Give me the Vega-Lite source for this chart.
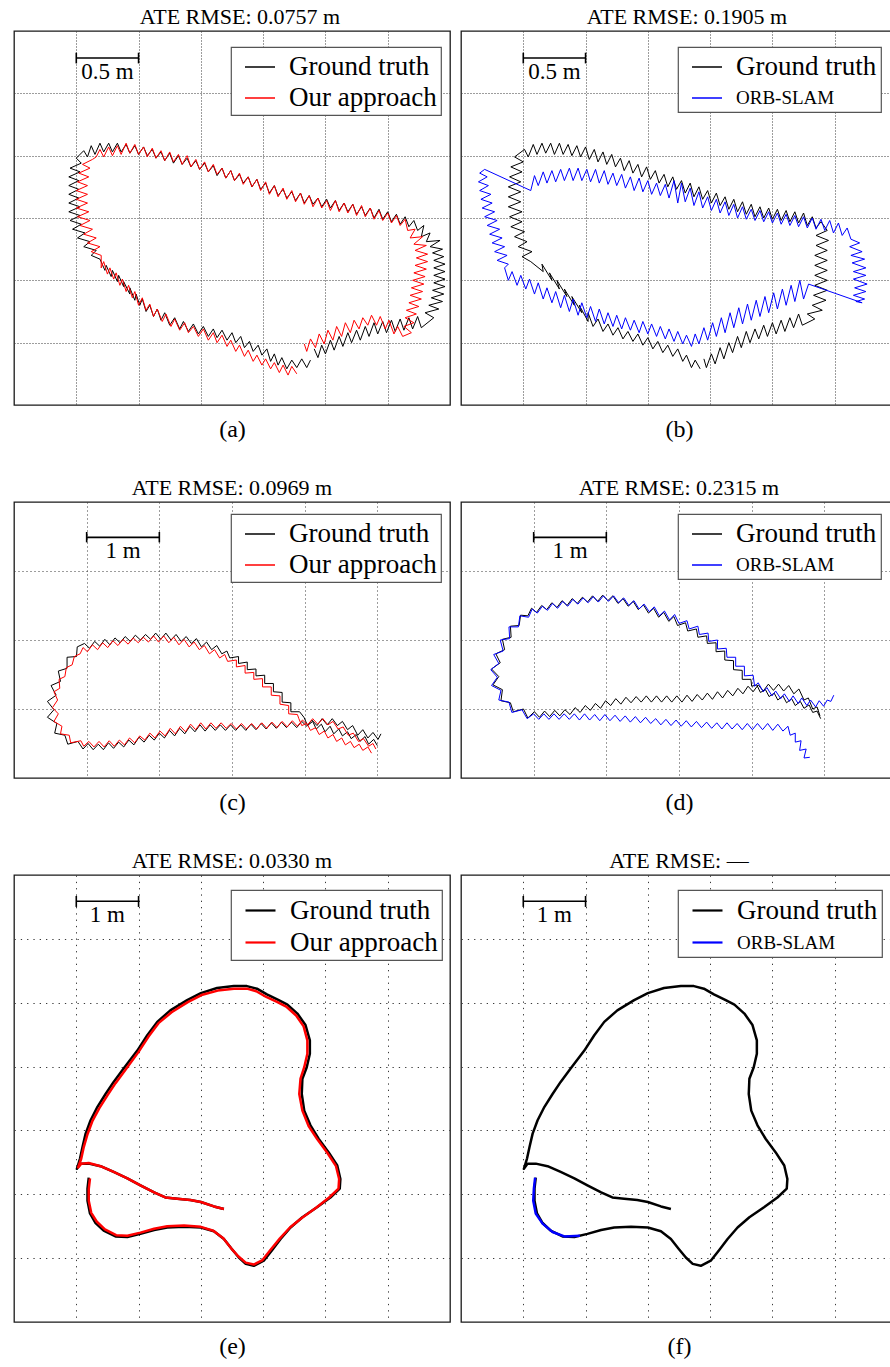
{
"$schema":"https://vega.github.io/schema/vega-lite/v6.json",
"background":"white",
"padding":{"left":13,"top":5,"right":0,"bottom":0},
"config":{
 "font":"Liberation Serif",
 "view":{"stroke":"#1a1a1a","strokeWidth":1.3},
 "axis":{"labels":false,"ticks":false,"domain":false,"grid":true,"gridColor":"#3a3a3a","gridWidth":1,"gridDash":[1,2],"titleFont":"Liberation Serif","titleFontSize":24,"titleFontWeight":"normal","titleColor":"#000","titlePadding":12},
 "title":{"font":"Liberation Serif","fontSize":22,"fontWeight":"normal","color":"#000","offset":2},
 "legend":{"fillColor":"white","strokeColor":"#555","strokeWidth":1.2,"padding":4,"symbolType":"stroke","symbolSize":900,"symbolStrokeWidth":1.5,"symbolOffset":9,"labelOffset":13,"rowPadding":2,"labelFont":"Liberation Serif","labelFontSize":27,"labelColor":"#000","labelLimit":0}
},
"datasets":{
"a_gt":[{"x":2.38,"y":0.36},{"x":2.35,"y":0.30},{"x":2.31,"y":0.37},{"x":2.27,"y":0.30},{"x":2.23,"y":0.36},{"x":2.19,"y":0.29},{"x":2.15,"y":0.38},{"x":2.12,"y":0.32},{"x":2.09,"y":0.41},{"x":2.06,"y":0.35},{"x":2.03,"y":0.45},{"x":1.99,"y":0.40},{"x":1.96,"y":0.48},{"x":1.92,"y":0.43},{"x":1.89,"y":0.51},{"x":1.85,"y":0.46},{"x":1.82,"y":0.55},{"x":1.78,"y":0.50},{"x":1.75,"y":0.58},{"x":1.71,"y":0.52},{"x":1.67,"y":0.60},{"x":1.63,"y":0.54},{"x":1.60,"y":0.61},{"x":1.56,"y":0.55},{"x":1.52,"y":0.63},{"x":1.48,"y":0.57},{"x":1.44,"y":0.65},{"x":1.40,"y":0.59},{"x":1.36,"y":0.67},{"x":1.33,"y":0.61},{"x":1.29,"y":0.70},{"x":1.25,"y":0.64},{"x":1.21,"y":0.74},{"x":1.18,"y":0.68},{"x":1.15,"y":0.77},{"x":1.12,"y":0.71},{"x":1.09,"y":0.80},{"x":1.06,"y":0.75},{"x":1.03,"y":0.85},{"x":1.01,"y":0.80},{"x":0.98,"y":0.89},{"x":0.97,"y":0.84},{"x":0.93,"y":0.94},{"x":0.93,"y":0.89},{"x":0.88,"y":0.99},{"x":0.88,"y":0.95},{"x":0.84,"y":1.04},{"x":0.83,"y":0.99},{"x":0.79,"y":1.08},{"x":0.78,"y":1.03},{"x":0.74,"y":1.12},{"x":0.73,"y":1.08},{"x":0.69,"y":1.17},{"x":0.62,"y":1.20},{"x":0.66,"y":1.24},{"x":0.56,"y":1.27},{"x":0.61,"y":1.31},{"x":0.51,"y":1.34},{"x":0.57,"y":1.38},{"x":0.47,"y":1.41},{"x":0.54,"y":1.45},{"x":0.45,"y":1.48},{"x":0.53,"y":1.52},{"x":0.44,"y":1.55},{"x":0.53,"y":1.59},{"x":0.44,"y":1.62},{"x":0.52,"y":1.66},{"x":0.44,"y":1.69},{"x":0.52,"y":1.73},{"x":0.44,"y":1.76},{"x":0.52,"y":1.80},{"x":0.44,"y":1.83},{"x":0.53,"y":1.87},{"x":0.45,"y":1.90},{"x":0.54,"y":1.94},{"x":0.50,"y":1.98},{"x":0.56,"y":2.04},{"x":0.59,"y":1.99},{"x":0.62,"y":2.08},{"x":0.65,"y":2.01},{"x":0.69,"y":2.10},{"x":0.72,"y":2.03},{"x":0.76,"y":2.10},{"x":0.79,"y":2.03},{"x":0.83,"y":2.10},{"x":0.86,"y":2.03},{"x":0.90,"y":2.09},{"x":0.93,"y":2.02},{"x":0.97,"y":2.08},{"x":1.00,"y":2.01},{"x":1.04,"y":2.07},{"x":1.07,"y":2.00},{"x":1.11,"y":2.05},{"x":1.14,"y":1.98},{"x":1.18,"y":2.03},{"x":1.21,"y":1.96},{"x":1.25,"y":2.02},{"x":1.28,"y":1.94},{"x":1.32,"y":2.00},{"x":1.35,"y":1.93},{"x":1.39,"y":1.98},{"x":1.42,"y":1.91},{"x":1.46,"y":1.96},{"x":1.49,"y":1.89},{"x":1.53,"y":1.94},{"x":1.56,"y":1.87},{"x":1.60,"y":1.92},{"x":1.63,"y":1.84},{"x":1.67,"y":1.90},{"x":1.70,"y":1.82},{"x":1.74,"y":1.88},{"x":1.77,"y":1.80},{"x":1.81,"y":1.85},{"x":1.84,"y":1.78},{"x":1.88,"y":1.83},{"x":1.91,"y":1.75},{"x":1.95,"y":1.81},{"x":1.98,"y":1.73},{"x":2.02,"y":1.78},{"x":2.05,"y":1.70},{"x":2.09,"y":1.76},{"x":2.12,"y":1.68},{"x":2.16,"y":1.73},{"x":2.19,"y":1.66},{"x":2.23,"y":1.71},{"x":2.26,"y":1.64},{"x":2.30,"y":1.70},{"x":2.33,"y":1.62},{"x":2.37,"y":1.68},{"x":2.40,"y":1.61},{"x":2.44,"y":1.66},{"x":2.47,"y":1.59},{"x":2.51,"y":1.65},{"x":2.54,"y":1.58},{"x":2.58,"y":1.64},{"x":2.61,"y":1.56},{"x":2.65,"y":1.62},{"x":2.68,"y":1.55},{"x":2.72,"y":1.61},{"x":2.75,"y":1.53},{"x":2.79,"y":1.59},{"x":2.82,"y":1.52},{"x":2.86,"y":1.58},{"x":2.89,"y":1.50},{"x":2.93,"y":1.57},{"x":2.96,"y":1.49},{"x":3.00,"y":1.55},{"x":3.03,"y":1.47},{"x":3.07,"y":1.53},{"x":3.10,"y":1.45},{"x":3.14,"y":1.51},{"x":3.17,"y":1.43},{"x":3.21,"y":1.48},{"x":3.24,"y":1.40},{"x":3.29,"y":1.44},{"x":3.27,"y":1.35},{"x":3.34,"y":1.38},{"x":3.31,"y":1.31},{"x":3.42,"y":1.32},{"x":3.34,"y":1.27},{"x":3.44,"y":1.25},{"x":3.36,"y":1.22},{"x":3.45,"y":1.19},{"x":3.37,"y":1.16},{"x":3.46,"y":1.13},{"x":3.37,"y":1.10},{"x":3.46,"y":1.07},{"x":3.37,"y":1.04},{"x":3.46,"y":1.01},{"x":3.37,"y":0.98},{"x":3.46,"y":0.95},{"x":3.36,"y":0.92},{"x":3.45,"y":0.89},{"x":3.35,"y":0.86},{"x":3.44,"y":0.83},{"x":3.33,"y":0.80},{"x":3.41,"y":0.77},{"x":3.30,"y":0.74},{"x":3.37,"y":0.70},{"x":3.27,"y":0.62},{"x":3.24,"y":0.71},{"x":3.20,"y":0.61},{"x":3.17,"y":0.70},{"x":3.13,"y":0.60},{"x":3.10,"y":0.69},{"x":3.06,"y":0.59},{"x":3.03,"y":0.68},{"x":2.99,"y":0.58},{"x":2.96,"y":0.67},{"x":2.92,"y":0.57},{"x":2.89,"y":0.66},{"x":2.85,"y":0.55},{"x":2.82,"y":0.63},{"x":2.78,"y":0.52},{"x":2.75,"y":0.60},{"x":2.71,"y":0.50},{"x":2.68,"y":0.58},{"x":2.64,"y":0.47},{"x":2.61,"y":0.55},{"x":2.57,"y":0.44},{"x":2.54,"y":0.52},{"x":2.50,"y":0.41},{"x":2.47,"y":0.48},{"x":2.44,"y":0.38},{"x":2.41,"y":0.45}],
"a_ours":[{"x":2.27,"y":0.25},{"x":2.23,"y":0.31},{"x":2.20,"y":0.24},{"x":2.16,"y":0.32},{"x":2.13,"y":0.26},{"x":2.09,"y":0.34},{"x":2.06,"y":0.29},{"x":2.02,"y":0.37},{"x":1.99,"y":0.32},{"x":1.95,"y":0.40},{"x":1.92,"y":0.35},{"x":1.88,"y":0.44},{"x":1.85,"y":0.39},{"x":1.81,"y":0.48},{"x":1.78,"y":0.43},{"x":1.74,"y":0.52},{"x":1.71,"y":0.47},{"x":1.67,"y":0.56},{"x":1.63,"y":0.50},{"x":1.60,"y":0.58},{"x":1.56,"y":0.52},{"x":1.52,"y":0.61},{"x":1.48,"y":0.55},{"x":1.44,"y":0.63},{"x":1.40,"y":0.58},{"x":1.37,"y":0.66},{"x":1.33,"y":0.60},{"x":1.29,"y":0.69},{"x":1.26,"y":0.63},{"x":1.22,"y":0.73},{"x":1.19,"y":0.67},{"x":1.15,"y":0.77},{"x":1.12,"y":0.71},{"x":1.09,"y":0.81},{"x":1.06,"y":0.76},{"x":1.03,"y":0.86},{"x":1.00,"y":0.80},{"x":0.97,"y":0.91},{"x":0.95,"y":0.86},{"x":0.92,"y":0.96},{"x":0.90,"y":0.91},{"x":0.87,"y":1.01},{"x":0.85,"y":0.96},{"x":0.82,"y":1.06},{"x":0.80,"y":1.01},{"x":0.77,"y":1.10},{"x":0.75,"y":1.05},{"x":0.72,"y":1.15},{"x":0.70,"y":1.10},{"x":0.70,"y":1.20},{"x":0.62,"y":1.23},{"x":0.69,"y":1.27},{"x":0.59,"y":1.30},{"x":0.66,"y":1.34},{"x":0.56,"y":1.37},{"x":0.63,"y":1.41},{"x":0.53,"y":1.44},{"x":0.61,"y":1.48},{"x":0.51,"y":1.51},{"x":0.60,"y":1.55},{"x":0.50,"y":1.58},{"x":0.59,"y":1.62},{"x":0.50,"y":1.65},{"x":0.59,"y":1.69},{"x":0.50,"y":1.72},{"x":0.59,"y":1.76},{"x":0.51,"y":1.79},{"x":0.60,"y":1.83},{"x":0.52,"y":1.86},{"x":0.61,"y":1.90},{"x":0.55,"y":1.93},{"x":0.63,"y":1.97},{"x":0.66,"y":1.99},{"x":0.69,"y":2.05},{"x":0.72,"y":1.99},{"x":0.76,"y":2.07},{"x":0.79,"y":2.00},{"x":0.83,"y":2.08},{"x":0.86,"y":2.01},{"x":0.90,"y":2.10},{"x":0.93,"y":2.02},{"x":0.97,"y":2.09},{"x":1.00,"y":2.01},{"x":1.04,"y":2.07},{"x":1.07,"y":1.99},{"x":1.11,"y":2.06},{"x":1.14,"y":1.98},{"x":1.18,"y":2.04},{"x":1.21,"y":1.96},{"x":1.25,"y":2.03},{"x":1.28,"y":1.95},{"x":1.32,"y":2.01},{"x":1.35,"y":1.93},{"x":1.39,"y":2.00},{"x":1.42,"y":1.91},{"x":1.46,"y":1.97},{"x":1.49,"y":1.89},{"x":1.53,"y":1.95},{"x":1.56,"y":1.87},{"x":1.60,"y":1.93},{"x":1.63,"y":1.85},{"x":1.67,"y":1.90},{"x":1.70,"y":1.82},{"x":1.74,"y":1.88},{"x":1.77,"y":1.80},{"x":1.81,"y":1.86},{"x":1.84,"y":1.77},{"x":1.88,"y":1.83},{"x":1.91,"y":1.75},{"x":1.95,"y":1.81},{"x":1.98,"y":1.72},{"x":2.02,"y":1.79},{"x":2.05,"y":1.69},{"x":2.09,"y":1.76},{"x":2.12,"y":1.67},{"x":2.16,"y":1.74},{"x":2.19,"y":1.65},{"x":2.23,"y":1.72},{"x":2.26,"y":1.63},{"x":2.30,"y":1.70},{"x":2.33,"y":1.61},{"x":2.37,"y":1.68},{"x":2.40,"y":1.59},{"x":2.44,"y":1.66},{"x":2.47,"y":1.58},{"x":2.51,"y":1.64},{"x":2.54,"y":1.56},{"x":2.58,"y":1.64},{"x":2.61,"y":1.55},{"x":2.65,"y":1.62},{"x":2.68,"y":1.54},{"x":2.72,"y":1.61},{"x":2.75,"y":1.52},{"x":2.79,"y":1.60},{"x":2.82,"y":1.51},{"x":2.86,"y":1.58},{"x":2.89,"y":1.49},{"x":2.93,"y":1.56},{"x":2.96,"y":1.48},{"x":3.00,"y":1.54},{"x":3.03,"y":1.46},{"x":3.07,"y":1.52},{"x":3.10,"y":1.44},{"x":3.14,"y":1.49},{"x":3.16,"y":1.40},{"x":3.22,"y":1.41},{"x":3.18,"y":1.34},{"x":3.28,"y":1.35},{"x":3.21,"y":1.29},{"x":3.31,"y":1.28},{"x":3.22,"y":1.24},{"x":3.32,"y":1.21},{"x":3.23,"y":1.18},{"x":3.32,"y":1.15},{"x":3.22,"y":1.12},{"x":3.31,"y":1.09},{"x":3.21,"y":1.06},{"x":3.30,"y":1.03},{"x":3.20,"y":1.00},{"x":3.29,"y":0.97},{"x":3.19,"y":0.94},{"x":3.28,"y":0.91},{"x":3.18,"y":0.88},{"x":3.27,"y":0.85},{"x":3.17,"y":0.82},{"x":3.25,"y":0.79},{"x":3.15,"y":0.76},{"x":3.23,"y":0.73},{"x":3.14,"y":0.70},{"x":3.21,"y":0.66},{"x":3.13,"y":0.63},{"x":3.19,"y":0.58},{"x":3.12,"y":0.55},{"x":3.08,"y":0.63},{"x":3.05,"y":0.57},{"x":3.01,"y":0.68},{"x":2.98,"y":0.61},{"x":2.94,"y":0.71},{"x":2.91,"y":0.64},{"x":2.87,"y":0.72},{"x":2.84,"y":0.64},{"x":2.80,"y":0.70},{"x":2.77,"y":0.61},{"x":2.73,"y":0.68},{"x":2.70,"y":0.58},{"x":2.66,"y":0.66},{"x":2.63,"y":0.55},{"x":2.59,"y":0.63},{"x":2.56,"y":0.52},{"x":2.52,"y":0.60},{"x":2.49,"y":0.49},{"x":2.45,"y":0.57},{"x":2.42,"y":0.46},{"x":2.38,"y":0.53},{"x":2.35,"y":0.43},{"x":2.33,"y":0.49}],
"b_gt":[{"x":1.92,"y":0.29},{"x":1.88,"y":0.36},{"x":1.85,"y":0.30},{"x":1.81,"y":0.40},{"x":1.78,"y":0.35},{"x":1.74,"y":0.45},{"x":1.70,"y":0.39},{"x":1.66,"y":0.48},{"x":1.62,"y":0.42},{"x":1.58,"y":0.51},{"x":1.54,"y":0.45},{"x":1.50,"y":0.54},{"x":1.46,"y":0.48},{"x":1.42,"y":0.57},{"x":1.38,"y":0.51},{"x":1.34,"y":0.59},{"x":1.30,"y":0.53},{"x":1.26,"y":0.62},{"x":1.22,"y":0.56},{"x":1.18,"y":0.65},{"x":1.14,"y":0.59},{"x":1.10,"y":0.69},{"x":1.06,"y":0.63},{"x":1.02,"y":0.74},{"x":1.02,"y":0.67},{"x":0.95,"y":0.80},{"x":0.97,"y":0.74},{"x":0.89,"y":0.87},{"x":0.91,"y":0.80},{"x":0.83,"y":0.93},{"x":0.85,"y":0.87},{"x":0.77,"y":1.00},{"x":0.79,"y":0.93},{"x":0.71,"y":1.06},{"x":0.73,"y":1.00},{"x":0.65,"y":1.13},{"x":0.66,"y":1.07},{"x":0.56,"y":1.15},{"x":0.49,"y":1.19},{"x":0.57,"y":1.23},{"x":0.46,"y":1.27},{"x":0.53,"y":1.31},{"x":0.43,"y":1.35},{"x":0.51,"y":1.39},{"x":0.40,"y":1.43},{"x":0.49,"y":1.47},{"x":0.39,"y":1.51},{"x":0.49,"y":1.55},{"x":0.38,"y":1.59},{"x":0.48,"y":1.63},{"x":0.38,"y":1.67},{"x":0.48,"y":1.71},{"x":0.38,"y":1.75},{"x":0.48,"y":1.79},{"x":0.39,"y":1.83},{"x":0.49,"y":1.87},{"x":0.40,"y":1.91},{"x":0.50,"y":1.95},{"x":0.43,"y":1.99},{"x":0.51,"y":2.05},{"x":0.54,"y":1.99},{"x":0.58,"y":2.09},{"x":0.61,"y":2.01},{"x":0.65,"y":2.10},{"x":0.68,"y":2.02},{"x":0.72,"y":2.10},{"x":0.75,"y":2.01},{"x":0.79,"y":2.10},{"x":0.82,"y":2.01},{"x":0.86,"y":2.09},{"x":0.89,"y":2.00},{"x":0.93,"y":2.08},{"x":0.96,"y":1.99},{"x":1.00,"y":2.07},{"x":1.03,"y":1.97},{"x":1.07,"y":2.05},{"x":1.10,"y":1.95},{"x":1.14,"y":2.03},{"x":1.17,"y":1.93},{"x":1.21,"y":2.01},{"x":1.24,"y":1.91},{"x":1.28,"y":1.98},{"x":1.31,"y":1.88},{"x":1.35,"y":1.96},{"x":1.38,"y":1.86},{"x":1.42,"y":1.93},{"x":1.45,"y":1.83},{"x":1.49,"y":1.91},{"x":1.52,"y":1.81},{"x":1.56,"y":1.88},{"x":1.59,"y":1.78},{"x":1.63,"y":1.85},{"x":1.66,"y":1.75},{"x":1.70,"y":1.83},{"x":1.73,"y":1.73},{"x":1.77,"y":1.80},{"x":1.80,"y":1.70},{"x":1.84,"y":1.78},{"x":1.87,"y":1.67},{"x":1.91,"y":1.75},{"x":1.94,"y":1.65},{"x":1.98,"y":1.72},{"x":2.01,"y":1.62},{"x":2.05,"y":1.70},{"x":2.08,"y":1.60},{"x":2.12,"y":1.67},{"x":2.15,"y":1.57},{"x":2.19,"y":1.65},{"x":2.22,"y":1.55},{"x":2.26,"y":1.63},{"x":2.29,"y":1.53},{"x":2.33,"y":1.61},{"x":2.36,"y":1.51},{"x":2.40,"y":1.59},{"x":2.43,"y":1.50},{"x":2.47,"y":1.58},{"x":2.50,"y":1.49},{"x":2.54,"y":1.57},{"x":2.57,"y":1.48},{"x":2.61,"y":1.56},{"x":2.64,"y":1.47},{"x":2.68,"y":1.55},{"x":2.71,"y":1.46},{"x":2.75,"y":1.54},{"x":2.78,"y":1.44},{"x":2.82,"y":1.51},{"x":2.85,"y":1.42},{"x":2.89,"y":1.47},{"x":2.94,"y":1.40},{"x":2.85,"y":1.36},{"x":2.95,"y":1.32},{"x":2.85,"y":1.28},{"x":2.94,"y":1.24},{"x":2.84,"y":1.20},{"x":2.94,"y":1.16},{"x":2.84,"y":1.12},{"x":2.94,"y":1.08},{"x":2.84,"y":1.04},{"x":2.94,"y":1.00},{"x":2.84,"y":0.96},{"x":2.94,"y":0.92},{"x":2.83,"y":0.88},{"x":2.93,"y":0.84},{"x":2.82,"y":0.80},{"x":2.90,"y":0.76},{"x":2.78,"y":0.73},{"x":2.84,"y":0.69},{"x":2.74,"y":0.64},{"x":2.71,"y":0.73},{"x":2.67,"y":0.62},{"x":2.64,"y":0.70},{"x":2.60,"y":0.59},{"x":2.57,"y":0.68},{"x":2.53,"y":0.57},{"x":2.50,"y":0.66},{"x":2.46,"y":0.55},{"x":2.43,"y":0.64},{"x":2.39,"y":0.53},{"x":2.36,"y":0.61},{"x":2.32,"y":0.50},{"x":2.29,"y":0.59},{"x":2.25,"y":0.46},{"x":2.22,"y":0.55},{"x":2.18,"y":0.42},{"x":2.15,"y":0.50},{"x":2.11,"y":0.37},{"x":2.08,"y":0.46},{"x":2.04,"y":0.33},{"x":2.01,"y":0.41},{"x":1.97,"y":0.30},{"x":1.95,"y":0.37}],
"b_orb":[{"x":0.56,"y":1.72},{"x":0.59,"y":1.84},{"x":0.62,"y":1.76},{"x":0.66,"y":1.87},{"x":0.69,"y":1.78},{"x":0.73,"y":1.88},{"x":0.76,"y":1.79},{"x":0.80,"y":1.89},{"x":0.83,"y":1.80},{"x":0.87,"y":1.90},{"x":0.90,"y":1.80},{"x":0.94,"y":1.90},{"x":0.97,"y":1.80},{"x":1.01,"y":1.89},{"x":1.04,"y":1.79},{"x":1.08,"y":1.89},{"x":1.11,"y":1.78},{"x":1.15,"y":1.88},{"x":1.18,"y":1.77},{"x":1.22,"y":1.86},{"x":1.25,"y":1.76},{"x":1.29,"y":1.85},{"x":1.32,"y":1.74},{"x":1.36,"y":1.83},{"x":1.39,"y":1.72},{"x":1.43,"y":1.82},{"x":1.46,"y":1.71},{"x":1.50,"y":1.80},{"x":1.53,"y":1.69},{"x":1.57,"y":1.78},{"x":1.60,"y":1.68},{"x":1.64,"y":1.77},{"x":1.67,"y":1.66},{"x":1.71,"y":1.80},{"x":1.74,"y":1.62},{"x":1.77,"y":1.78},{"x":1.80,"y":1.63},{"x":1.84,"y":1.74},{"x":1.87,"y":1.60},{"x":1.91,"y":1.71},{"x":1.94,"y":1.58},{"x":1.98,"y":1.67},{"x":2.01,"y":1.56},{"x":2.05,"y":1.65},{"x":2.08,"y":1.54},{"x":2.12,"y":1.63},{"x":2.15,"y":1.52},{"x":2.19,"y":1.61},{"x":2.22,"y":1.50},{"x":2.26,"y":1.59},{"x":2.29,"y":1.49},{"x":2.33,"y":1.57},{"x":2.36,"y":1.48},{"x":2.40,"y":1.56},{"x":2.43,"y":1.47},{"x":2.47,"y":1.55},{"x":2.50,"y":1.46},{"x":2.54,"y":1.54},{"x":2.57,"y":1.45},{"x":2.61,"y":1.53},{"x":2.64,"y":1.44},{"x":2.68,"y":1.52},{"x":2.71,"y":1.43},{"x":2.75,"y":1.51},{"x":2.78,"y":1.42},{"x":2.82,"y":1.50},{"x":2.85,"y":1.41},{"x":2.89,"y":1.49},{"x":2.92,"y":1.40},{"x":2.96,"y":1.48},{"x":2.99,"y":1.38},{"x":3.03,"y":1.46},{"x":3.06,"y":1.36},{"x":3.10,"y":1.42},{"x":3.13,"y":1.33},{"x":3.20,"y":1.30},{"x":3.12,"y":1.27},{"x":3.22,"y":1.23},{"x":3.13,"y":1.20},{"x":3.24,"y":1.17},{"x":3.14,"y":1.14},{"x":3.25,"y":1.10},{"x":3.15,"y":1.07},{"x":3.25,"y":1.04},{"x":3.15,"y":1.01},{"x":3.26,"y":0.97},{"x":3.16,"y":0.94},{"x":3.25,"y":0.91},{"x":3.15,"y":0.88},{"x":3.24,"y":0.85},{"x":3.17,"y":0.83},{"x":3.22,"y":0.82},{"x":2.79,"y":0.97},{"x":2.75,"y":0.85},{"x":2.72,"y":1.00},{"x":2.68,"y":0.83},{"x":2.65,"y":0.96},{"x":2.61,"y":0.80},{"x":2.58,"y":0.93},{"x":2.54,"y":0.77},{"x":2.51,"y":0.90},{"x":2.47,"y":0.74},{"x":2.44,"y":0.87},{"x":2.40,"y":0.71},{"x":2.37,"y":0.84},{"x":2.33,"y":0.68},{"x":2.30,"y":0.81},{"x":2.26,"y":0.65},{"x":2.23,"y":0.78},{"x":2.19,"y":0.62},{"x":2.16,"y":0.74},{"x":2.12,"y":0.58},{"x":2.09,"y":0.70},{"x":2.05,"y":0.55},{"x":2.02,"y":0.66},{"x":1.98,"y":0.52},{"x":1.95,"y":0.62},{"x":1.91,"y":0.49},{"x":1.88,"y":0.57},{"x":1.85,"y":0.47},{"x":1.81,"y":0.56},{"x":1.78,"y":0.49},{"x":1.74,"y":0.59},{"x":1.71,"y":0.51},{"x":1.67,"y":0.61},{"x":1.64,"y":0.53},{"x":1.60,"y":0.63},{"x":1.57,"y":0.55},{"x":1.53,"y":0.65},{"x":1.50,"y":0.57},{"x":1.46,"y":0.67},{"x":1.43,"y":0.58},{"x":1.39,"y":0.68},{"x":1.36,"y":0.60},{"x":1.32,"y":0.70},{"x":1.29,"y":0.61},{"x":1.25,"y":0.72},{"x":1.22,"y":0.63},{"x":1.18,"y":0.74},{"x":1.15,"y":0.65},{"x":1.11,"y":0.77},{"x":1.08,"y":0.67},{"x":1.04,"y":0.79},{"x":1.01,"y":0.70},{"x":0.97,"y":0.82},{"x":0.94,"y":0.72},{"x":0.90,"y":0.85},{"x":0.87,"y":0.75},{"x":0.83,"y":0.88},{"x":0.80,"y":0.78},{"x":0.76,"y":0.91},{"x":0.73,"y":0.82},{"x":0.69,"y":0.94},{"x":0.66,"y":0.85},{"x":0.62,"y":0.98},{"x":0.59,"y":0.89},{"x":0.55,"y":1.01},{"x":0.52,"y":0.93},{"x":0.48,"y":1.04},{"x":0.45,"y":0.96},{"x":0.41,"y":1.07},{"x":0.38,"y":1.00},{"x":0.35,"y":1.10},{"x":0.38,"y":1.13},{"x":0.29,"y":1.16},{"x":0.37,"y":1.20},{"x":0.27,"y":1.23},{"x":0.35,"y":1.27},{"x":0.25,"y":1.30},{"x":0.33,"y":1.34},{"x":0.23,"y":1.37},{"x":0.31,"y":1.41},{"x":0.21,"y":1.44},{"x":0.29,"y":1.48},{"x":0.19,"y":1.51},{"x":0.27,"y":1.55},{"x":0.17,"y":1.58},{"x":0.25,"y":1.62},{"x":0.16,"y":1.65},{"x":0.24,"y":1.69},{"x":0.15,"y":1.72},{"x":0.22,"y":1.76},{"x":0.14,"y":1.79},{"x":0.21,"y":1.83},{"x":0.15,"y":1.86},{"x":0.19,"y":1.89},{"x":0.56,"y":1.72}],
"c_gt":[{"x":5.00,"y":0.47},{"x":4.95,"y":0.56},{"x":4.88,"y":0.49},{"x":4.83,"y":0.60},{"x":4.76,"y":0.53},{"x":4.71,"y":0.63},{"x":4.64,"y":0.57},{"x":4.59,"y":0.67},{"x":4.52,"y":0.61},{"x":4.47,"y":0.71},{"x":4.40,"y":0.64},{"x":4.35,"y":0.75},{"x":4.28,"y":0.67},{"x":4.23,"y":0.78},{"x":4.16,"y":0.71},{"x":4.11,"y":0.82},{"x":4.04,"y":0.76},{"x":3.99,"y":0.88},{"x":3.93,"y":0.96},{"x":3.81,"y":0.96},{"x":3.81,"y":1.09},{"x":3.69,"y":1.10},{"x":3.69,"y":1.24},{"x":3.57,"y":1.25},{"x":3.57,"y":1.37},{"x":3.45,"y":1.37},{"x":3.45,"y":1.49},{"x":3.33,"y":1.48},{"x":3.33,"y":1.58},{"x":3.21,"y":1.57},{"x":3.21,"y":1.68},{"x":3.09,"y":1.66},{"x":3.09,"y":1.76},{"x":2.97,"y":1.74},{"x":2.93,"y":1.84},{"x":2.86,"y":1.80},{"x":2.79,"y":1.92},{"x":2.72,"y":1.86},{"x":2.65,"y":1.97},{"x":2.58,"y":1.90},{"x":2.51,"y":2.02},{"x":2.44,"y":1.95},{"x":2.37,"y":2.05},{"x":2.30,"y":1.98},{"x":2.23,"y":2.08},{"x":2.16,"y":2.00},{"x":2.09,"y":2.10},{"x":2.02,"y":2.01},{"x":1.95,"y":2.10},{"x":1.88,"y":2.01},{"x":1.81,"y":2.08},{"x":1.74,"y":2.00},{"x":1.67,"y":2.07},{"x":1.60,"y":1.98},{"x":1.53,"y":2.05},{"x":1.46,"y":1.96},{"x":1.39,"y":2.03},{"x":1.32,"y":1.93},{"x":1.25,"y":2.01},{"x":1.18,"y":1.91},{"x":1.11,"y":1.98},{"x":1.04,"y":1.88},{"x":0.97,"y":1.95},{"x":0.87,"y":1.90},{"x":0.86,"y":1.76},{"x":0.73,"y":1.75},{"x":0.73,"y":1.59},{"x":0.61,"y":1.55},{"x":0.64,"y":1.40},{"x":0.51,"y":1.34},{"x":0.58,"y":1.20},{"x":0.46,"y":1.11},{"x":0.55,"y":0.99},{"x":0.46,"y":0.88},{"x":0.59,"y":0.79},{"x":0.56,"y":0.65},{"x":0.70,"y":0.62},{"x":0.74,"y":0.49},{"x":0.88,"y":0.53},{"x":0.95,"y":0.42},{"x":1.02,"y":0.50},{"x":1.09,"y":0.41},{"x":1.16,"y":0.49},{"x":1.23,"y":0.41},{"x":1.30,"y":0.51},{"x":1.37,"y":0.43},{"x":1.44,"y":0.52},{"x":1.51,"y":0.45},{"x":1.58,"y":0.55},{"x":1.65,"y":0.48},{"x":1.72,"y":0.59},{"x":1.79,"y":0.52},{"x":1.86,"y":0.62},{"x":1.93,"y":0.55},{"x":2.00,"y":0.65},{"x":2.07,"y":0.58},{"x":2.14,"y":0.69},{"x":2.21,"y":0.61},{"x":2.28,"y":0.72},{"x":2.35,"y":0.64},{"x":2.42,"y":0.75},{"x":2.49,"y":0.67},{"x":2.56,"y":0.77},{"x":2.63,"y":0.68},{"x":2.70,"y":0.77},{"x":2.77,"y":0.69},{"x":2.84,"y":0.77},{"x":2.91,"y":0.69},{"x":2.98,"y":0.77},{"x":3.05,"y":0.69},{"x":3.12,"y":0.77},{"x":3.19,"y":0.69},{"x":3.26,"y":0.78},{"x":3.33,"y":0.70},{"x":3.40,"y":0.79},{"x":3.47,"y":0.71},{"x":3.54,"y":0.80},{"x":3.61,"y":0.72},{"x":3.68,"y":0.81},{"x":3.75,"y":0.73},{"x":3.82,"y":0.81},{"x":3.89,"y":0.73},{"x":3.96,"y":0.82},{"x":4.03,"y":0.75},{"x":4.10,"y":0.84},{"x":4.17,"y":0.76},{"x":4.24,"y":0.86},{"x":4.31,"y":0.77},{"x":4.38,"y":0.86},{"x":4.45,"y":0.76},{"x":4.52,"y":0.82},{"x":4.59,"y":0.70},{"x":4.66,"y":0.76},{"x":4.73,"y":0.62},{"x":4.80,"y":0.70},{"x":4.87,"y":0.58},{"x":4.94,"y":0.66},{"x":5.01,"y":0.56},{"x":5.05,"y":0.64}],
"c_ours":[{"x":4.92,"y":0.36},{"x":4.87,"y":0.45},{"x":4.80,"y":0.40},{"x":4.75,"y":0.49},{"x":4.68,"y":0.44},{"x":4.63,"y":0.53},{"x":4.56,"y":0.48},{"x":4.51,"y":0.58},{"x":4.44,"y":0.53},{"x":4.39,"y":0.63},{"x":4.32,"y":0.58},{"x":4.27,"y":0.68},{"x":4.20,"y":0.63},{"x":4.15,"y":0.73},{"x":4.08,"y":0.69},{"x":4.03,"y":0.79},{"x":3.96,"y":0.76},{"x":3.92,"y":0.86},{"x":3.90,"y":0.92},{"x":3.78,"y":0.93},{"x":3.78,"y":1.05},{"x":3.66,"y":1.07},{"x":3.66,"y":1.19},{"x":3.54,"y":1.20},{"x":3.54,"y":1.32},{"x":3.42,"y":1.32},{"x":3.42,"y":1.44},{"x":3.30,"y":1.43},{"x":3.30,"y":1.53},{"x":3.18,"y":1.52},{"x":3.18,"y":1.63},{"x":3.06,"y":1.61},{"x":3.06,"y":1.71},{"x":2.94,"y":1.69},{"x":2.90,"y":1.79},{"x":2.83,"y":1.74},{"x":2.76,"y":1.86},{"x":2.69,"y":1.80},{"x":2.62,"y":1.92},{"x":2.55,"y":1.86},{"x":2.48,"y":1.97},{"x":2.41,"y":1.90},{"x":2.34,"y":2.01},{"x":2.27,"y":1.93},{"x":2.20,"y":2.04},{"x":2.13,"y":1.96},{"x":2.06,"y":2.06},{"x":1.99,"y":1.97},{"x":1.92,"y":2.06},{"x":1.85,"y":1.97},{"x":1.78,"y":2.04},{"x":1.71,"y":1.96},{"x":1.64,"y":2.03},{"x":1.57,"y":1.94},{"x":1.50,"y":2.01},{"x":1.43,"y":1.92},{"x":1.36,"y":1.99},{"x":1.29,"y":1.89},{"x":1.22,"y":1.96},{"x":1.15,"y":1.86},{"x":1.08,"y":1.93},{"x":1.01,"y":1.83},{"x":0.95,"y":1.89},{"x":0.91,"y":1.80},{"x":0.83,"y":1.76},{"x":0.80,"y":1.64},{"x":0.72,"y":1.60},{"x":0.70,"y":1.47},{"x":0.62,"y":1.43},{"x":0.63,"y":1.30},{"x":0.55,"y":1.25},{"x":0.60,"y":1.13},{"x":0.53,"y":1.02},{"x":0.61,"y":0.93},{"x":0.55,"y":0.82},{"x":0.66,"y":0.75},{"x":0.64,"y":0.64},{"x":0.76,"y":0.62},{"x":0.78,"y":0.51},{"x":0.92,"y":0.54},{"x":0.96,"y":0.46},{"x":1.03,"y":0.53},{"x":1.10,"y":0.45},{"x":1.17,"y":0.53},{"x":1.24,"y":0.45},{"x":1.31,"y":0.54},{"x":1.38,"y":0.46},{"x":1.45,"y":0.55},{"x":1.52,"y":0.48},{"x":1.59,"y":0.58},{"x":1.66,"y":0.51},{"x":1.73,"y":0.61},{"x":1.80,"y":0.55},{"x":1.87,"y":0.65},{"x":1.94,"y":0.58},{"x":2.01,"y":0.68},{"x":2.08,"y":0.61},{"x":2.15,"y":0.72},{"x":2.22,"y":0.64},{"x":2.29,"y":0.75},{"x":2.36,"y":0.67},{"x":2.43,"y":0.78},{"x":2.50,"y":0.70},{"x":2.57,"y":0.80},{"x":2.64,"y":0.71},{"x":2.71,"y":0.80},{"x":2.78,"y":0.72},{"x":2.85,"y":0.80},{"x":2.92,"y":0.72},{"x":2.99,"y":0.79},{"x":3.06,"y":0.71},{"x":3.13,"y":0.79},{"x":3.20,"y":0.71},{"x":3.27,"y":0.79},{"x":3.34,"y":0.71},{"x":3.41,"y":0.80},{"x":3.48,"y":0.72},{"x":3.55,"y":0.81},{"x":3.62,"y":0.73},{"x":3.69,"y":0.82},{"x":3.76,"y":0.74},{"x":3.83,"y":0.83},{"x":3.90,"y":0.75},{"x":3.97,"y":0.84},{"x":4.04,"y":0.77},{"x":4.11,"y":0.86},{"x":4.18,"y":0.78},{"x":4.25,"y":0.86},{"x":4.32,"y":0.77},{"x":4.39,"y":0.82},{"x":4.46,"y":0.71},{"x":4.53,"y":0.74},{"x":4.60,"y":0.62},{"x":4.67,"y":0.65},{"x":4.74,"y":0.53},{"x":4.81,"y":0.57},{"x":4.88,"y":0.46},{"x":4.94,"y":0.50},{"x":4.98,"y":0.42}],
"d_gt":[{"x":4.95,"y":0.86},{"x":4.90,"y":0.97},{"x":4.84,"y":0.95},{"x":4.79,"y":1.06},{"x":4.72,"y":1.01},{"x":4.67,"y":1.11},{"x":4.60,"y":1.05},{"x":4.55,"y":1.15},{"x":4.48,"y":1.09},{"x":4.43,"y":1.19},{"x":4.36,"y":1.13},{"x":4.31,"y":1.23},{"x":4.24,"y":1.18},{"x":4.19,"y":1.28},{"x":4.12,"y":1.24},{"x":4.07,"y":1.35},{"x":4.00,"y":1.33},{"x":3.99,"y":1.43},{"x":3.87,"y":1.43},{"x":3.87,"y":1.56},{"x":3.75,"y":1.57},{"x":3.75,"y":1.70},{"x":3.63,"y":1.71},{"x":3.63,"y":1.84},{"x":3.51,"y":1.83},{"x":3.51,"y":1.96},{"x":3.39,"y":1.95},{"x":3.38,"y":2.06},{"x":3.26,"y":2.04},{"x":3.24,"y":2.16},{"x":3.12,"y":2.13},{"x":3.09,"y":2.25},{"x":2.98,"y":2.21},{"x":2.93,"y":2.34},{"x":2.86,"y":2.27},{"x":2.79,"y":2.40},{"x":2.72,"y":2.33},{"x":2.65,"y":2.46},{"x":2.58,"y":2.39},{"x":2.51,"y":2.51},{"x":2.44,"y":2.44},{"x":2.37,"y":2.56},{"x":2.30,"y":2.49},{"x":2.23,"y":2.60},{"x":2.16,"y":2.53},{"x":2.09,"y":2.64},{"x":2.02,"y":2.57},{"x":1.95,"y":2.65},{"x":1.88,"y":2.56},{"x":1.81,"y":2.64},{"x":1.74,"y":2.55},{"x":1.67,"y":2.62},{"x":1.60,"y":2.53},{"x":1.53,"y":2.60},{"x":1.46,"y":2.50},{"x":1.39,"y":2.57},{"x":1.32,"y":2.47},{"x":1.25,"y":2.54},{"x":1.18,"y":2.44},{"x":1.11,"y":2.50},{"x":1.04,"y":2.40},{"x":0.97,"y":2.46},{"x":0.92,"y":2.35},{"x":0.82,"y":2.36},{"x":0.80,"y":2.21},{"x":0.68,"y":2.20},{"x":0.69,"y":2.04},{"x":0.57,"y":2.01},{"x":0.60,"y":1.86},{"x":0.48,"y":1.80},{"x":0.54,"y":1.67},{"x":0.42,"y":1.58},{"x":0.52,"y":1.47},{"x":0.44,"y":1.35},{"x":0.57,"y":1.28},{"x":0.55,"y":1.12},{"x":0.68,"y":1.09},{"x":0.72,"y":0.96},{"x":0.86,"y":1.00},{"x":0.92,"y":0.87},{"x":1.01,"y":0.96},{"x":1.08,"y":0.88},{"x":1.15,"y":0.97},{"x":1.22,"y":0.89},{"x":1.29,"y":0.98},{"x":1.36,"y":0.90},{"x":1.43,"y":0.99},{"x":1.50,"y":0.92},{"x":1.57,"y":1.02},{"x":1.64,"y":0.95},{"x":1.71,"y":1.05},{"x":1.78,"y":0.98},{"x":1.85,"y":1.08},{"x":1.92,"y":1.01},{"x":1.99,"y":1.12},{"x":2.06,"y":1.05},{"x":2.13,"y":1.15},{"x":2.20,"y":1.07},{"x":2.27,"y":1.17},{"x":2.34,"y":1.09},{"x":2.41,"y":1.18},{"x":2.48,"y":1.10},{"x":2.55,"y":1.19},{"x":2.62,"y":1.10},{"x":2.69,"y":1.19},{"x":2.76,"y":1.10},{"x":2.83,"y":1.19},{"x":2.90,"y":1.10},{"x":2.97,"y":1.19},{"x":3.04,"y":1.10},{"x":3.11,"y":1.20},{"x":3.18,"y":1.11},{"x":3.25,"y":1.21},{"x":3.32,"y":1.13},{"x":3.39,"y":1.23},{"x":3.46,"y":1.14},{"x":3.53,"y":1.25},{"x":3.60,"y":1.16},{"x":3.67,"y":1.27},{"x":3.74,"y":1.19},{"x":3.81,"y":1.30},{"x":3.88,"y":1.22},{"x":3.95,"y":1.33},{"x":4.02,"y":1.25},{"x":4.09,"y":1.35},{"x":4.16,"y":1.26},{"x":4.23,"y":1.36},{"x":4.30,"y":1.27},{"x":4.37,"y":1.36},{"x":4.44,"y":1.26},{"x":4.51,"y":1.34},{"x":4.58,"y":1.22},{"x":4.65,"y":1.29},{"x":4.72,"y":1.13},{"x":4.78,"y":1.16},{"x":4.84,"y":1.00},{"x":4.90,"y":1.03},{"x":4.94,"y":0.90}],
"d_orb":[{"x":5.13,"y":1.20},{"x":5.09,"y":1.11},{"x":5.04,"y":1.13},{"x":4.99,"y":1.04},{"x":4.93,"y":1.12},{"x":4.88,"y":1.03},{"x":4.81,"y":1.13},{"x":4.76,"y":1.05},{"x":4.69,"y":1.16},{"x":4.64,"y":1.08},{"x":4.57,"y":1.19},{"x":4.52,"y":1.11},{"x":4.45,"y":1.22},{"x":4.40,"y":1.15},{"x":4.33,"y":1.26},{"x":4.28,"y":1.19},{"x":4.21,"y":1.31},{"x":4.16,"y":1.25},{"x":4.09,"y":1.38},{"x":4.04,"y":1.33},{"x":4.02,"y":1.49},{"x":3.90,"y":1.48},{"x":3.90,"y":1.62},{"x":3.78,"y":1.62},{"x":3.78,"y":1.75},{"x":3.66,"y":1.75},{"x":3.65,"y":1.88},{"x":3.53,"y":1.87},{"x":3.53,"y":2.00},{"x":3.41,"y":1.98},{"x":3.40,"y":2.10},{"x":3.28,"y":2.08},{"x":3.26,"y":2.20},{"x":3.14,"y":2.16},{"x":3.11,"y":2.28},{"x":3.00,"y":2.24},{"x":2.94,"y":2.37},{"x":2.87,"y":2.29},{"x":2.80,"y":2.42},{"x":2.73,"y":2.35},{"x":2.66,"y":2.48},{"x":2.59,"y":2.41},{"x":2.52,"y":2.52},{"x":2.45,"y":2.45},{"x":2.38,"y":2.57},{"x":2.31,"y":2.50},{"x":2.24,"y":2.61},{"x":2.17,"y":2.54},{"x":2.10,"y":2.64},{"x":2.03,"y":2.56},{"x":1.96,"y":2.64},{"x":1.89,"y":2.55},{"x":1.82,"y":2.63},{"x":1.75,"y":2.54},{"x":1.68,"y":2.61},{"x":1.61,"y":2.52},{"x":1.54,"y":2.59},{"x":1.47,"y":2.49},{"x":1.40,"y":2.56},{"x":1.33,"y":2.46},{"x":1.26,"y":2.53},{"x":1.19,"y":2.43},{"x":1.12,"y":2.49},{"x":1.05,"y":2.39},{"x":0.98,"y":2.45},{"x":0.93,"y":2.33},{"x":0.81,"y":2.35},{"x":0.79,"y":2.19},{"x":0.66,"y":2.19},{"x":0.67,"y":2.02},{"x":0.54,"y":2.00},{"x":0.58,"y":1.84},{"x":0.45,"y":1.79},{"x":0.52,"y":1.66},{"x":0.41,"y":1.57},{"x":0.50,"y":1.46},{"x":0.42,"y":1.34},{"x":0.55,"y":1.27},{"x":0.52,"y":1.13},{"x":0.66,"y":1.10},{"x":0.70,"y":0.95},{"x":0.84,"y":0.99},{"x":0.91,"y":0.86},{"x":1.00,"y":0.93},{"x":1.07,"y":0.85},{"x":1.14,"y":0.93},{"x":1.21,"y":0.85},{"x":1.28,"y":0.93},{"x":1.35,"y":0.85},{"x":1.42,"y":0.93},{"x":1.49,"y":0.85},{"x":1.56,"y":0.93},{"x":1.63,"y":0.84},{"x":1.70,"y":0.93},{"x":1.77,"y":0.84},{"x":1.84,"y":0.92},{"x":1.91,"y":0.83},{"x":1.98,"y":0.92},{"x":2.05,"y":0.83},{"x":2.12,"y":0.91},{"x":2.19,"y":0.82},{"x":2.26,"y":0.90},{"x":2.33,"y":0.81},{"x":2.40,"y":0.89},{"x":2.47,"y":0.80},{"x":2.54,"y":0.88},{"x":2.61,"y":0.79},{"x":2.68,"y":0.86},{"x":2.75,"y":0.77},{"x":2.82,"y":0.85},{"x":2.89,"y":0.76},{"x":2.96,"y":0.84},{"x":3.03,"y":0.75},{"x":3.10,"y":0.83},{"x":3.17,"y":0.74},{"x":3.24,"y":0.82},{"x":3.31,"y":0.73},{"x":3.38,"y":0.81},{"x":3.45,"y":0.72},{"x":3.52,"y":0.80},{"x":3.59,"y":0.71},{"x":3.66,"y":0.80},{"x":3.73,"y":0.71},{"x":3.80,"y":0.79},{"x":3.87,"y":0.70},{"x":3.94,"y":0.79},{"x":4.01,"y":0.70},{"x":4.08,"y":0.79},{"x":4.15,"y":0.70},{"x":4.22,"y":0.79},{"x":4.29,"y":0.69},{"x":4.36,"y":0.78},{"x":4.43,"y":0.68},{"x":4.50,"y":0.75},{"x":4.53,"y":0.62},{"x":4.60,"y":0.65},{"x":4.60,"y":0.52},{"x":4.68,"y":0.54},{"x":4.66,"y":0.40},{"x":4.75,"y":0.42},{"x":4.72,"y":0.29},{"x":4.80,"y":0.30}],
"e_gt":[{"x":1.20,"y":2.26},{"x":1.18,"y":2.09},{"x":1.18,"y":1.90},{"x":1.22,"y":1.70},{"x":1.31,"y":1.55},{"x":1.44,"y":1.43},{"x":1.63,"y":1.34},{"x":1.82,"y":1.33},{"x":2.03,"y":1.38},{"x":2.25,"y":1.44},{"x":2.46,"y":1.48},{"x":2.73,"y":1.49},{"x":3.00,"y":1.48},{"x":3.21,"y":1.42},{"x":3.37,"y":1.30},{"x":3.50,"y":1.14},{"x":3.61,"y":1.01},{"x":3.72,"y":0.91},{"x":3.85,"y":0.88},{"x":4.01,"y":0.96},{"x":4.14,"y":1.12},{"x":4.28,"y":1.30},{"x":4.44,"y":1.48},{"x":4.63,"y":1.64},{"x":4.87,"y":1.80},{"x":5.08,"y":1.95},{"x":5.23,"y":2.09},{"x":5.24,"y":2.24},{"x":5.19,"y":2.45},{"x":5.05,"y":2.66},{"x":4.89,"y":2.87},{"x":4.76,"y":3.08},{"x":4.66,"y":3.31},{"x":4.62,"y":3.57},{"x":4.63,"y":3.81},{"x":4.70,"y":3.99},{"x":4.75,"y":4.20},{"x":4.75,"y":4.41},{"x":4.68,"y":4.65},{"x":4.55,"y":4.83},{"x":4.39,"y":4.97},{"x":4.25,"y":5.04},{"x":4.06,"y":5.13},{"x":3.90,"y":5.22},{"x":3.74,"y":5.26},{"x":3.53,"y":5.26},{"x":3.26,"y":5.23},{"x":3.00,"y":5.15},{"x":2.78,"y":5.04},{"x":2.51,"y":4.88},{"x":2.30,"y":4.70},{"x":2.14,"y":4.49},{"x":1.98,"y":4.25},{"x":1.76,"y":3.97},{"x":1.60,"y":3.76},{"x":1.47,"y":3.57},{"x":1.34,"y":3.37},{"x":1.23,"y":3.16},{"x":1.15,"y":2.95},{"x":1.10,"y":2.74},{"x":1.06,"y":2.56},{"x":1.01,"y":2.40},{"x":1.07,"y":2.48},{"x":1.20,"y":2.48},{"x":1.39,"y":2.44},{"x":1.60,"y":2.35},{"x":1.82,"y":2.25},{"x":2.03,"y":2.14},{"x":2.25,"y":2.03},{"x":2.43,"y":1.95},{"x":2.62,"y":1.93},{"x":2.83,"y":1.91},{"x":3.00,"y":1.88},{"x":3.21,"y":1.81},{"x":3.37,"y":1.77}],
"e_ours":[{"x":1.22,"y":2.25},{"x":1.20,"y":2.08},{"x":1.20,"y":1.90},{"x":1.24,"y":1.71},{"x":1.33,"y":1.57},{"x":1.46,"y":1.45},{"x":1.64,"y":1.36},{"x":1.82,"y":1.35},{"x":2.03,"y":1.40},{"x":2.25,"y":1.46},{"x":2.46,"y":1.50},{"x":2.73,"y":1.51},{"x":3.00,"y":1.49},{"x":3.20,"y":1.43},{"x":3.36,"y":1.31},{"x":3.49,"y":1.15},{"x":3.60,"y":1.03},{"x":3.72,"y":0.93},{"x":3.85,"y":0.90},{"x":3.99,"y":0.97},{"x":4.12,"y":1.13},{"x":4.27,"y":1.31},{"x":4.43,"y":1.48},{"x":4.62,"y":1.63},{"x":4.85,"y":1.79},{"x":5.06,"y":1.95},{"x":5.21,"y":2.09},{"x":5.22,"y":2.24},{"x":5.17,"y":2.44},{"x":5.03,"y":2.65},{"x":4.87,"y":2.86},{"x":4.73,"y":3.07},{"x":4.63,"y":3.31},{"x":4.58,"y":3.57},{"x":4.60,"y":3.81},{"x":4.66,"y":3.99},{"x":4.71,"y":4.20},{"x":4.71,"y":4.41},{"x":4.65,"y":4.63},{"x":4.53,"y":4.80},{"x":4.37,"y":4.94},{"x":4.23,"y":5.01},{"x":4.05,"y":5.09},{"x":3.89,"y":5.18},{"x":3.74,"y":5.22},{"x":3.53,"y":5.22},{"x":3.27,"y":5.19},{"x":3.01,"y":5.12},{"x":2.79,"y":5.01},{"x":2.53,"y":4.85},{"x":2.32,"y":4.68},{"x":2.16,"y":4.47},{"x":2.00,"y":4.23},{"x":1.79,"y":3.95},{"x":1.63,"y":3.74},{"x":1.50,"y":3.55},{"x":1.37,"y":3.35},{"x":1.26,"y":3.15},{"x":1.18,"y":2.94},{"x":1.12,"y":2.74},{"x":1.08,"y":2.56},{"x":1.03,"y":2.42},{"x":1.08,"y":2.48},{"x":1.20,"y":2.49},{"x":1.39,"y":2.44},{"x":1.60,"y":2.35},{"x":1.82,"y":2.25},{"x":2.03,"y":2.14},{"x":2.25,"y":2.03},{"x":2.43,"y":1.95},{"x":2.62,"y":1.93},{"x":2.83,"y":1.91},{"x":3.00,"y":1.88},{"x":3.21,"y":1.81},{"x":3.37,"y":1.77}],
"f_orb":[{"x":1.19,"y":2.26},{"x":1.17,"y":2.09},{"x":1.16,"y":1.90},{"x":1.20,"y":1.70},{"x":1.31,"y":1.54},{"x":1.47,"y":1.41},{"x":1.66,"y":1.34},{"x":1.91,"y":1.35}]
},
"spacing":34,
"resolve":{"scale":{"color":"independent"},"legend":{"color":"independent"}},
"vconcat":[
{"hconcat":[
 {"width":436,"height":374,"title":{"text":"ATE RMSE: 0.0757 m","dx":8},
  "layer":[
   {"data":{"name":"a_gt"},"mark":{"type":"line","strokeWidth":1,"strokeJoin":"round"},"encoding":{"x":{"field":"x","type":"quantitative","scale":{"domain":[0,3.5],"nice":false,"zero":false},"axis":{"values":[0.5,1,1.5,2,2.5,3],"title":"(a)","gridDash":[1,2]}},"y":{"field":"y","type":"quantitative","scale":{"domain":[0,3],"nice":false,"zero":false},"axis":{"values":[0.5,1,1.5,2,2.5],"title":null,"gridDash":[1,2]}},"color":{"datum":"Ground truth","type":"nominal","scale":{"domain":["Ground truth","Our approach"],"range":["#000000","#ff0000"]},"legend":{"title":null,"orient":"none","legendX":217,"legendY":16}},"order":{"value":null}}},
   {"data":{"name":"a_ours"},"mark":{"type":"line","strokeWidth":1,"strokeJoin":"round"},"encoding":{"x":{"field":"x","type":"quantitative","scale":{"domain":[0,3.5],"nice":false,"zero":false},"axis":{"values":[0.5,1,1.5,2,2.5,3],"title":"(a)","gridDash":[1,2]}},"y":{"field":"y","type":"quantitative","scale":{"domain":[0,3],"nice":false,"zero":false},"axis":{"values":[0.5,1,1.5,2,2.5],"title":null,"gridDash":[1,2]}},"color":{"datum":"Our approach","type":"nominal","scale":{"domain":["Ground truth","Our approach"],"range":["#000000","#ff0000"]},"legend":{"title":null,"orient":"none","legendX":217,"legendY":16}},"order":{"value":null}}},
   {"data":{"values":[{}]},"mark":{"type":"rule","color":"#000","strokeWidth":1.6},"encoding":{"x":{"datum":0.5},"x2":{"datum":1},"y":{"datum":2.783}}},
   {"data":{"values":[{}]},"mark":{"type":"rule","color":"#000","strokeWidth":1.6},"encoding":{"x":{"datum":0.5},"y":{"datum":2.74},"y2":{"datum":2.826}}},
   {"data":{"values":[{}]},"mark":{"type":"rule","color":"#000","strokeWidth":1.6},"encoding":{"x":{"datum":1},"y":{"datum":2.74},"y2":{"datum":2.826}}},
   {"data":{"values":[{"label":"0.5 m"}]},"mark":{"type":"text","fontSize":23,"baseline":"alphabetic","align":"center","color":"#000"},"encoding":{"x":{"datum":0.75},"y":{"datum":2.615},"text":{"field":"label"}}}
  ]},
 {"width":436,"height":374,"title":{"text":"ATE RMSE: 0.1905 m","dx":8},
  "layer":[
   {"data":{"name":"b_gt"},"mark":{"type":"line","strokeWidth":1,"strokeJoin":"round"},"encoding":{"x":{"field":"x","type":"quantitative","scale":{"domain":[0,3.5],"nice":false,"zero":false},"axis":{"values":[0.5,1,1.5,2,2.5,3],"title":"(b)","gridDash":[1,2]}},"y":{"field":"y","type":"quantitative","scale":{"domain":[0,3],"nice":false,"zero":false},"axis":{"values":[0.5,1,1.5,2,2.5],"title":null,"gridDash":[1,2]}},"color":{"datum":"Ground truth","type":"nominal","scale":{"domain":["Ground truth","ORB-SLAM"],"range":["#000000","#0000ff"]},"legend":{"title":null,"orient":"none","legendX":217,"legendY":16,"encode":{"labels":{"update":{"fontSize":{"signal":"datum.label === 'ORB-SLAM' ? 19 : 27"}}}}}},"order":{"value":null}}},
   {"data":{"name":"b_orb"},"mark":{"type":"line","strokeWidth":1,"strokeJoin":"round"},"encoding":{"x":{"field":"x","type":"quantitative","scale":{"domain":[0,3.5],"nice":false,"zero":false},"axis":{"values":[0.5,1,1.5,2,2.5,3],"title":"(b)","gridDash":[1,2]}},"y":{"field":"y","type":"quantitative","scale":{"domain":[0,3],"nice":false,"zero":false},"axis":{"values":[0.5,1,1.5,2,2.5],"title":null,"gridDash":[1,2]}},"color":{"datum":"ORB-SLAM","type":"nominal","scale":{"domain":["Ground truth","ORB-SLAM"],"range":["#000000","#0000ff"]},"legend":{"title":null,"orient":"none","legendX":217,"legendY":16,"encode":{"labels":{"update":{"fontSize":{"signal":"datum.label === 'ORB-SLAM' ? 19 : 27"}}}}}},"order":{"value":null}}},
   {"data":{"values":[{}]},"mark":{"type":"rule","color":"#000","strokeWidth":1.6},"encoding":{"x":{"datum":0.5},"x2":{"datum":1},"y":{"datum":2.783}}},
   {"data":{"values":[{}]},"mark":{"type":"rule","color":"#000","strokeWidth":1.6},"encoding":{"x":{"datum":0.5},"y":{"datum":2.74},"y2":{"datum":2.826}}},
   {"data":{"values":[{}]},"mark":{"type":"rule","color":"#000","strokeWidth":1.6},"encoding":{"x":{"datum":1},"y":{"datum":2.74},"y2":{"datum":2.826}}},
   {"data":{"values":[{"label":"0.5 m"}]},"mark":{"type":"text","fontSize":23,"baseline":"alphabetic","align":"center","color":"#000"},"encoding":{"x":{"datum":0.75},"y":{"datum":2.615},"text":{"field":"label"}}}
  ]}
 ],"spacing":9,"resolve":{"scale":{"color":"independent"},"legend":{"color":"independent"}}},
{"hconcat":[
 {"width":436,"height":276,"title":{"text":"ATE RMSE: 0.0969 m"},
  "layer":[
   {"data":{"name":"c_gt"},"mark":{"type":"line","strokeWidth":1,"strokeJoin":"round"},"encoding":{"x":{"field":"x","type":"quantitative","scale":{"domain":[0,6],"nice":false,"zero":false},"axis":{"values":[1,2,3,4,5],"title":"(c)","gridDash":[1,3]}},"y":{"field":"y","type":"quantitative","scale":{"domain":[0,4],"nice":false,"zero":false},"axis":{"values":[1,2,3],"title":null,"gridDash":[1,3]}},"color":{"datum":"Ground truth","type":"nominal","scale":{"domain":["Ground truth","Our approach"],"range":["#000000","#ff0000"]},"legend":{"title":null,"orient":"none","legendX":217,"legendY":12}},"order":{"value":null}}},
   {"data":{"name":"c_ours"},"mark":{"type":"line","strokeWidth":1,"strokeJoin":"round"},"encoding":{"x":{"field":"x","type":"quantitative","scale":{"domain":[0,6],"nice":false,"zero":false},"axis":{"values":[1,2,3,4,5],"title":"(c)","gridDash":[1,3]}},"y":{"field":"y","type":"quantitative","scale":{"domain":[0,4],"nice":false,"zero":false},"axis":{"values":[1,2,3],"title":null,"gridDash":[1,3]}},"color":{"datum":"Our approach","type":"nominal","scale":{"domain":["Ground truth","Our approach"],"range":["#000000","#ff0000"]},"legend":{"title":null,"orient":"none","legendX":217,"legendY":12}},"order":{"value":null}}},
   {"data":{"values":[{}]},"mark":{"type":"rule","color":"#000","strokeWidth":1.6},"encoding":{"x":{"datum":1},"x2":{"datum":2},"y":{"datum":3.488}}},
   {"data":{"values":[{}]},"mark":{"type":"rule","color":"#000","strokeWidth":1.6},"encoding":{"x":{"datum":1},"y":{"datum":3.415},"y2":{"datum":3.565}}},
   {"data":{"values":[{}]},"mark":{"type":"rule","color":"#000","strokeWidth":1.6},"encoding":{"x":{"datum":2},"y":{"datum":3.415},"y2":{"datum":3.565}}},
   {"data":{"values":[{"label":"1 m"}]},"mark":{"type":"text","fontSize":23,"baseline":"alphabetic","align":"center","color":"#000"},"encoding":{"x":{"datum":1.5},"y":{"datum":3.19},"text":{"field":"label"}}}
  ]},
 {"width":436,"height":276,"title":{"text":"ATE RMSE: 0.2315 m"},
  "layer":[
   {"data":{"name":"d_gt"},"mark":{"type":"line","strokeWidth":1,"strokeJoin":"round"},"encoding":{"x":{"field":"x","type":"quantitative","scale":{"domain":[0,6],"nice":false,"zero":false},"axis":{"values":[1,2,3,4,5],"title":"(d)","gridDash":[1,3]}},"y":{"field":"y","type":"quantitative","scale":{"domain":[0,4],"nice":false,"zero":false},"axis":{"values":[1,2,3],"title":null,"gridDash":[1,3]}},"color":{"datum":"Ground truth","type":"nominal","scale":{"domain":["Ground truth","ORB-SLAM"],"range":["#000000","#0000ff"]},"legend":{"title":null,"orient":"none","legendX":217,"legendY":12,"encode":{"labels":{"update":{"fontSize":{"signal":"datum.label === 'ORB-SLAM' ? 19 : 27"}}}}}},"order":{"value":null}}},
   {"data":{"name":"d_orb"},"mark":{"type":"line","strokeWidth":1,"strokeJoin":"round"},"encoding":{"x":{"field":"x","type":"quantitative","scale":{"domain":[0,6],"nice":false,"zero":false},"axis":{"values":[1,2,3,4,5],"title":"(d)","gridDash":[1,3]}},"y":{"field":"y","type":"quantitative","scale":{"domain":[0,4],"nice":false,"zero":false},"axis":{"values":[1,2,3],"title":null,"gridDash":[1,3]}},"color":{"datum":"ORB-SLAM","type":"nominal","scale":{"domain":["Ground truth","ORB-SLAM"],"range":["#000000","#0000ff"]},"legend":{"title":null,"orient":"none","legendX":217,"legendY":12,"encode":{"labels":{"update":{"fontSize":{"signal":"datum.label === 'ORB-SLAM' ? 19 : 27"}}}}}},"order":{"value":null}}},
   {"data":{"values":[{}]},"mark":{"type":"rule","color":"#000","strokeWidth":1.6},"encoding":{"x":{"datum":1},"x2":{"datum":2},"y":{"datum":3.488}}},
   {"data":{"values":[{}]},"mark":{"type":"rule","color":"#000","strokeWidth":1.6},"encoding":{"x":{"datum":1},"y":{"datum":3.415},"y2":{"datum":3.565}}},
   {"data":{"values":[{}]},"mark":{"type":"rule","color":"#000","strokeWidth":1.6},"encoding":{"x":{"datum":2},"y":{"datum":3.415},"y2":{"datum":3.565}}},
   {"data":{"values":[{"label":"1 m"}]},"mark":{"type":"text","fontSize":23,"baseline":"alphabetic","align":"center","color":"#000"},"encoding":{"x":{"datum":1.5},"y":{"datum":3.19},"text":{"field":"label"}}}
  ]}
 ],"spacing":9,"resolve":{"scale":{"color":"independent"},"legend":{"color":"independent"}}},
{"hconcat":[
 {"width":436,"height":447,"title":{"text":"ATE RMSE: 0.0330 m"},
  "layer":[
   {"data":{"name":"e_gt"},"mark":{"type":"line","strokeWidth":2.5,"strokeJoin":"round"},"encoding":{"x":{"field":"x","type":"quantitative","scale":{"domain":[0,7],"nice":false,"zero":false},"axis":{"values":[1,2,3,4,5,6],"title":"(e)","gridDash":[1.3,5]}},"y":{"field":"y","type":"quantitative","scale":{"domain":[0,7],"nice":false,"zero":false},"axis":{"values":[1,2,3,4,5,6],"title":null,"gridDash":[1.3,5]}},"color":{"datum":"Ground truth","type":"nominal","scale":{"domain":["Ground truth","Our approach"],"range":["#000000","#ff0000"]},"legend":{"title":null,"orient":"none","legendX":217,"legendY":15,"symbolStrokeWidth":2.2}},"order":{"value":null}}},
   {"data":{"name":"e_ours"},"mark":{"type":"line","strokeWidth":2.5,"strokeJoin":"round"},"encoding":{"x":{"field":"x","type":"quantitative","scale":{"domain":[0,7],"nice":false,"zero":false},"axis":{"values":[1,2,3,4,5,6],"title":"(e)","gridDash":[1.3,5]}},"y":{"field":"y","type":"quantitative","scale":{"domain":[0,7],"nice":false,"zero":false},"axis":{"values":[1,2,3,4,5,6],"title":null,"gridDash":[1.3,5]}},"color":{"datum":"Our approach","type":"nominal","scale":{"domain":["Ground truth","Our approach"],"range":["#000000","#ff0000"]},"legend":{"title":null,"orient":"none","legendX":217,"legendY":15,"symbolStrokeWidth":2.2}},"order":{"value":null}}},
   {"data":{"values":[{}]},"mark":{"type":"rule","color":"#000","strokeWidth":1.6},"encoding":{"x":{"datum":1},"x2":{"datum":2},"y":{"datum":6.588}}},
   {"data":{"values":[{}]},"mark":{"type":"rule","color":"#000","strokeWidth":1.6},"encoding":{"x":{"datum":1},"y":{"datum":6.5},"y2":{"datum":6.672}}},
   {"data":{"values":[{}]},"mark":{"type":"rule","color":"#000","strokeWidth":1.6},"encoding":{"x":{"datum":2},"y":{"datum":6.5},"y2":{"datum":6.672}}},
   {"data":{"values":[{"label":"1 m"}]},"mark":{"type":"text","fontSize":23,"baseline":"alphabetic","align":"center","color":"#000"},"encoding":{"x":{"datum":1.5},"y":{"datum":6.26},"text":{"field":"label"}}}
  ]},
 {"width":436,"height":447,"title":{"text":"ATE RMSE: —"},
  "layer":[
   {"data":{"name":"e_gt"},"mark":{"type":"line","strokeWidth":2.5,"strokeJoin":"round"},"encoding":{"x":{"field":"x","type":"quantitative","scale":{"domain":[0,7],"nice":false,"zero":false},"axis":{"values":[1,2,3,4,5,6],"title":"(f)","gridDash":[1.3,5]}},"y":{"field":"y","type":"quantitative","scale":{"domain":[0,7],"nice":false,"zero":false},"axis":{"values":[1,2,3,4,5,6],"title":null,"gridDash":[1.3,5]}},"color":{"datum":"Ground truth","type":"nominal","scale":{"domain":["Ground truth","ORB-SLAM"],"range":["#000000","#0000ff"]},"legend":{"title":null,"orient":"none","legendX":217,"legendY":15,"symbolStrokeWidth":2.2,"encode":{"labels":{"update":{"fontSize":{"signal":"datum.label === 'ORB-SLAM' ? 19 : 27"}}}}}},"order":{"value":null}}},
   {"data":{"name":"f_orb"},"mark":{"type":"line","strokeWidth":2.5,"strokeJoin":"round"},"encoding":{"x":{"field":"x","type":"quantitative","scale":{"domain":[0,7],"nice":false,"zero":false},"axis":{"values":[1,2,3,4,5,6],"title":"(f)","gridDash":[1.3,5]}},"y":{"field":"y","type":"quantitative","scale":{"domain":[0,7],"nice":false,"zero":false},"axis":{"values":[1,2,3,4,5,6],"title":null,"gridDash":[1.3,5]}},"color":{"datum":"ORB-SLAM","type":"nominal","scale":{"domain":["Ground truth","ORB-SLAM"],"range":["#000000","#0000ff"]},"legend":{"title":null,"orient":"none","legendX":217,"legendY":15,"symbolStrokeWidth":2.2,"encode":{"labels":{"update":{"fontSize":{"signal":"datum.label === 'ORB-SLAM' ? 19 : 27"}}}}}},"order":{"value":null}}},
   {"data":{"values":[{}]},"mark":{"type":"rule","color":"#000","strokeWidth":1.6},"encoding":{"x":{"datum":1},"x2":{"datum":2},"y":{"datum":6.588}}},
   {"data":{"values":[{}]},"mark":{"type":"rule","color":"#000","strokeWidth":1.6},"encoding":{"x":{"datum":1},"y":{"datum":6.5},"y2":{"datum":6.672}}},
   {"data":{"values":[{}]},"mark":{"type":"rule","color":"#000","strokeWidth":1.6},"encoding":{"x":{"datum":2},"y":{"datum":6.5},"y2":{"datum":6.672}}},
   {"data":{"values":[{"label":"1 m"}]},"mark":{"type":"text","fontSize":23,"baseline":"alphabetic","align":"center","color":"#000"},"encoding":{"x":{"datum":1.5},"y":{"datum":6.26},"text":{"field":"label"}}}
  ]}
 ],"spacing":9,"resolve":{"scale":{"color":"independent"},"legend":{"color":"independent"}}}
]
}
